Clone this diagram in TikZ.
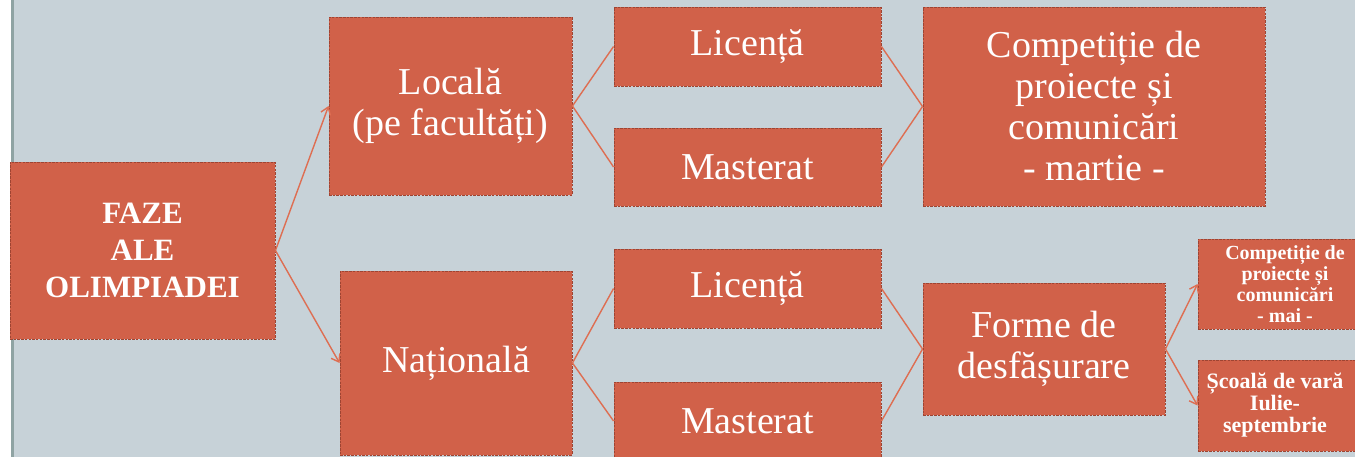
\documentclass[tikz,border=0pt]{standalone}
\usepackage{fontspec}
\setmainfont{Liberation Serif}
\usetikzlibrary{arrows.meta}
\definecolor{bg}{HTML}{C7D2D8}
\definecolor{edgegray}{HTML}{8FA3A3}
\definecolor{boxfill}{HTML}{D16149}
\definecolor{boxborder}{HTML}{9E4432}
\definecolor{link}{HTML}{DE6E52}
\tikzset{
  box/.style={draw=boxborder, fill=boxfill, line width=0.9pt, dash pattern=on 2.5pt off 1.2pt,
    text=white, align=center, inner sep=0pt, font=\fontsize{38}{41}\selectfont},
  boldbox/.style={box, font=\fontsize{31}{37}\selectfont\bfseries},
  smallbox/.style={box, font=\fontsize{20}{21}\selectfont\bfseries},
  smalltext/.style={text=white, align=center, inner sep=0pt, font=\fontsize{22}{22}\selectfont\bfseries},
  link/.style={draw=link, line width=1.4pt},
  arrowlink/.style={link, -{Straight Barb[length=7pt,width=10pt]}}
}
\begin{document}
\begin{tikzpicture}[x=1pt,y=-1pt]
\useasboundingbox (0,0) rectangle (1355,457);
\clip (0,0) rectangle (1355,457);
\fill[white] (0,0) rectangle (1355,457);
\fill[bg] (11,0) rectangle (1355,457);
\fill[edgegray] (11,0) rectangle (14,457);

\node[boldbox, minimum width=265pt, minimum height=177pt] (faze) at (142.5,250.5) {FAZE\\ALE\\OLIMPIADEI};
\node[box, minimum width=243pt, minimum height=178pt] (locala) at (450.5,106) {Locală\\(pe facultăți)};
\node[box, minimum width=267pt, minimum height=79pt] (lic1) at (747.5,46.5) {Licență};
\node[box, minimum width=267pt, minimum height=78pt] (mas1) at (747.5,167) {Masterat};
\node[box, minimum width=342pt, minimum height=199pt] (comp1) at (1094,106.5) {Competiție de\\proiecte și\\comunicări\\- martie -};
\node[box, minimum width=232pt, minimum height=184pt] (nat) at (456,363) {Națională};
\node[box, minimum width=267pt, minimum height=79pt] (lic2) at (747.5,288.5) {Licență};
\node[box, minimum width=267pt, minimum height=78pt] (mas2) at (747.5,421) {Masterat};
\node[box, minimum width=242pt, minimum height=132pt] (forme) at (1044,349) {Forme de\\desfășurare};
\node[smallbox, minimum width=174pt, minimum height=90pt] (comp2) at (1285,284) {Competiție de\\proiecte și\\comunicări\\- mai -};
\node[smallbox, minimum width=174pt, minimum height=91pt,
  label={[smalltext, xshift=-10pt]center:Școală de vară\\Iulie-\\septembrie}] (scoala) at (1285,405.5) {};

\draw[arrowlink] (faze.east) -- (locala.west);
\draw[arrowlink] (faze.east) -- (nat.west);
\draw[link] (locala.east) -- (lic1.west);
\draw[link] (locala.east) -- (mas1.west);
\draw[link] (lic1.east) -- (comp1.west);
\draw[link] (mas1.east) -- (comp1.west);
\draw[link] (nat.east) -- (lic2.west);
\draw[link] (nat.east) -- (mas2.west);
\draw[link] (lic2.east) -- (forme.west);
\draw[link] (mas2.east) -- (forme.west);
\draw[arrowlink] (forme.east) -- (comp2.west);
\draw[arrowlink] (forme.east) -- (scoala.west);
\end{tikzpicture}
\end{document}
